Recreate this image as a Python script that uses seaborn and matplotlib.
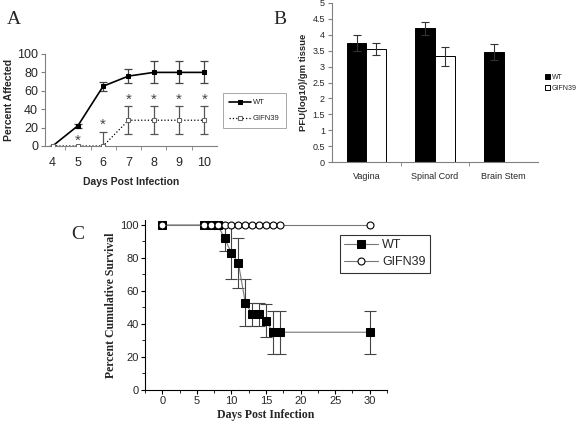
import numpy as np
import pandas as pd
import matplotlib
matplotlib.use("Agg")
import matplotlib.pyplot as plt
import seaborn as sns
from matplotlib.ticker import MultipleLocator

# Panel A data
days_a = [4, 5, 6, 7, 8, 9, 10]
wt_affected = [0, 22, 65, 76, 80, 80, 80]
wt_affected_err = [0, 2, 5, 8, 12, 12, 12]
gifn_affected = [0, 0, 0, 28, 28, 28, 28]
gifn_affected_err = [0, 0, 15, 15, 15, 15, 15]
star_days = [5, 6, 7, 8, 9, 10]
star_heights = [6, 23, 50, 50, 50, 50]

# Panel B data
tissues = ["Vagina", "Spinal Cord", "Brain Stem"]
wt_pfu = [3.75, 4.2, 3.45]
wt_pfu_err = [0.25, 0.2, 0.25]
gifn_pfu = [3.55, 3.33, 0.0]
gifn_pfu_err = [0.18, 0.3, 0.0]

# Panel C data
wt_days_c = [0, 6, 7, 8, 9, 10, 11, 12, 13, 14, 15, 16, 17, 30]
wt_survival = [100, 100, 100, 100, 92, 83, 77, 53, 46, 46, 42, 35, 35, 35]
wt_survival_lo = [0, 0, 0, 0, 8, 16, 15, 14, 7, 7, 10, 13, 13, 13]
wt_survival_hi = [0, 0, 0, 0, 8, 17, 15, 14, 7, 7, 10, 13, 13, 13]
gifn_days_c = [0, 6, 7, 8, 9, 10, 11, 12, 13, 14, 15, 16, 17, 30]
gifn_survival = [100] * 14

sns.set_style("white")
plt.rcParams['font.family'] = ['Liberation Sans', 'DejaVu Sans']

fig = plt.figure(figsize=(5.76, 4.24), dpi=100)
grey = "#808080"

# ---------------- Panel A
axA = fig.add_axes([45/576, 1-146/424, 172/576, 92/424])
axA.errorbar(days_a, wt_affected, yerr=wt_affected_err, fmt='none', ecolor='#444444',
             elinewidth=0.9, capsize=3, capthick=0.9, zorder=2)
axA.errorbar(days_a, gifn_affected, yerr=gifn_affected_err, fmt='none', ecolor='#555555',
             elinewidth=0.9, capsize=3, capthick=0.9, zorder=2)
sns.lineplot(x=days_a, y=wt_affected, ax=axA, color='black', lw=1.2, marker='s',
             markersize=3.5, markeredgecolor='black', label='WT', zorder=3)
sns.lineplot(x=days_a, y=gifn_affected, ax=axA, color='black', lw=0.9, linestyle=':',
             marker='s', markersize=3.5, markerfacecolor='white', markeredgecolor='#666666',
             label='GIFN39', zorder=3)
for d, h in zip(star_days, star_heights):
    axA.text(d, h, '*', ha='center', va='center', fontsize=11, color='#444444')
axA.set_xlim(3.7, 10.5)
axA.set_ylim(0, 100)
axA.set_yticks([0, 20, 40, 60, 80, 100])
axA.set_xticks(days_a)
axA.set_xticks(np.arange(4.5, 10.5, 1), minor=True)
axA.tick_params(axis='x', which='major', length=0, labelsize=9, pad=8)
axA.tick_params(axis='x', which='minor', length=3, color=grey, direction='out', bottom=True)
axA.tick_params(axis='y', length=3, color=grey, labelsize=9, direction='out', left=True, pad=2)
for s in ['top', 'right']:
    axA.spines[s].set_visible(False)
for s in ['left', 'bottom']:
    axA.spines[s].set_color(grey)
    axA.spines[s].set_linewidth(0.8)
axA.set_xlabel('Days Post Infection', fontsize=7.5, fontweight='bold', labelpad=6)
axA.set_ylabel('Percent Affected', fontsize=7.5, fontweight='bold', labelpad=2)
legA = axA.legend(loc='upper left', bbox_to_anchor=(1.035, 0.576), borderaxespad=0,
                  fontsize=5.5, frameon=True, fancybox=False, edgecolor=grey,
                  handlelength=2.8, handletextpad=0.3, borderpad=0.8, labelspacing=1.1)
legA.get_frame().set_linewidth(0.6)

# ---------------- Panel B
axB = fig.add_axes([332/576, 1-162/424, 206/576, 159/424])
dfB = pd.DataFrame({
    'tissue': tissues * 2,
    'pfu': wt_pfu + gifn_pfu,
    'group': ['WT'] * 3 + ['GIFN39'] * 3,
})
sns.barplot(data=dfB, x='tissue', y='pfu', hue='group', palette=['black', 'white'],
            edgecolor='black', linewidth=0.7, width=0.57, ax=axB, errorbar=None)
for cont, errs in zip(axB.containers, [wt_pfu_err, gifn_pfu_err]):
    xs = [p.get_x() + p.get_width() / 2 for p in cont.patches]
    hs = [p.get_height() for p in cont.patches]
    xs_e = [x for x, e in zip(xs, errs) if e > 0]
    hs_e = [h for h, e in zip(hs, errs) if e > 0]
    es = [e for e in errs if e > 0]
    axB.errorbar(xs_e, hs_e, yerr=es, fmt='none', ecolor='#333333', elinewidth=0.8,
                 capsize=3, capthick=0.8)
axB.set_xlim(-0.5, 2.5)
axB.set_ylim(0, 5)
axB.set_yticks(np.arange(0, 5.01, 0.5))
axB.set_yticklabels(['0', '0.5', '1', '1.5', '2', '2.5', '3', '3.5', '4', '4.5', '5'])
axB.set_xticks([0.5, 1.5], minor=True)
axB.tick_params(axis='x', which='major', length=0, labelsize=6.5, pad=7)
axB.tick_params(axis='x', which='minor', length=3, color=grey, direction='out', bottom=True)
axB.tick_params(axis='y', length=3, color=grey, labelsize=6.5, direction='out', left=True, pad=2)
for s in ['top', 'right']:
    axB.spines[s].set_visible(False)
for s in ['left', 'bottom']:
    axB.spines[s].set_color(grey)
    axB.spines[s].set_linewidth(0.8)
axB.set_xlabel('')
axB.set_ylabel('PFU(log10)/gm tissue', fontsize=6.8, fontweight='bold', labelpad=3)
legB = axB.legend(loc='upper left', bbox_to_anchor=(1.02, 0.57), borderaxespad=0,
                  fontsize=5, frameon=False, handlelength=0.7, handleheight=0.7,
                  handletextpad=0.3, labelspacing=0.5)

# ---------------- Panel C
axC = fig.add_axes([145/576, 34/424, 242/576, 170/424])
lo_hi = np.array([wt_survival_lo, wt_survival_hi])
mask = (lo_hi.sum(axis=0) > 0)
axC.errorbar(np.array(wt_days_c)[mask], np.array(wt_survival)[mask], yerr=lo_hi[:, mask],
             fmt='none', ecolor='#444444', elinewidth=0.8, capsize=4, capthick=0.8, zorder=2)
sns.lineplot(x=wt_days_c, y=wt_survival, ax=axC, color='#777777', lw=0.8, marker='s',
             markersize=5.2, markerfacecolor='black', markeredgecolor='black',
             label='WT', zorder=3)
sns.lineplot(x=gifn_days_c, y=gifn_survival, ax=axC, color='#777777', lw=0.8, marker='o',
             markersize=5, markerfacecolor='white', markeredgecolor='black',
             markeredgewidth=0.8, label='GIFN39', zorder=4)
axC.set_xlim(-2.5, 32.5)
axC.set_ylim(0, 103)
axC.set_xticks([0, 5, 10, 15, 20, 25, 30])
axC.xaxis.set_minor_locator(MultipleLocator(2.5))
axC.set_yticks([0, 20, 40, 60, 80, 100])
axC.yaxis.set_minor_locator(MultipleLocator(10))
axC.tick_params(axis='both', which='major', length=3, width=0.8, color='black',
                direction='out', labelsize=8, bottom=True, left=True, pad=1.5)
axC.tick_params(axis='both', which='minor', length=2, width=0.6, color='black',
                direction='out', bottom=True, left=True)
for s in ['top', 'right']:
    axC.spines[s].set_visible(False)
for s in ['left', 'bottom']:
    axC.spines[s].set_color('black')
    axC.spines[s].set_linewidth(0.8)
axC.set_xlabel('Days Post Infection', fontsize=8.5, fontweight='bold',
               family='Liberation Serif', labelpad=2)
axC.set_ylabel('Percent Cumulative Survival', fontsize=8.5, fontweight='bold',
               family='Liberation Serif', labelpad=2)
legC = axC.legend(loc='upper left', bbox_to_anchor=(0.806, 0.912), borderaxespad=0,
                  fontsize=9, frameon=True, fancybox=False, edgecolor='black',
                  handlelength=2.7, borderpad=0.35, labelspacing=0.4, handletextpad=0.3)
legC.get_frame().set_linewidth(0.8)

# panel letters
fig.text(7/576, 1-19/424, 'A', fontsize=14, family='Liberation Serif', va='center')
fig.text(273/576, 1-20/424, 'B', fontsize=14, family='Liberation Serif', va='center')
fig.text(71/576, 1-234/424, 'C', fontsize=14, family='Liberation Serif', va='center')

fig.savefig('out.png', dpi=100)
